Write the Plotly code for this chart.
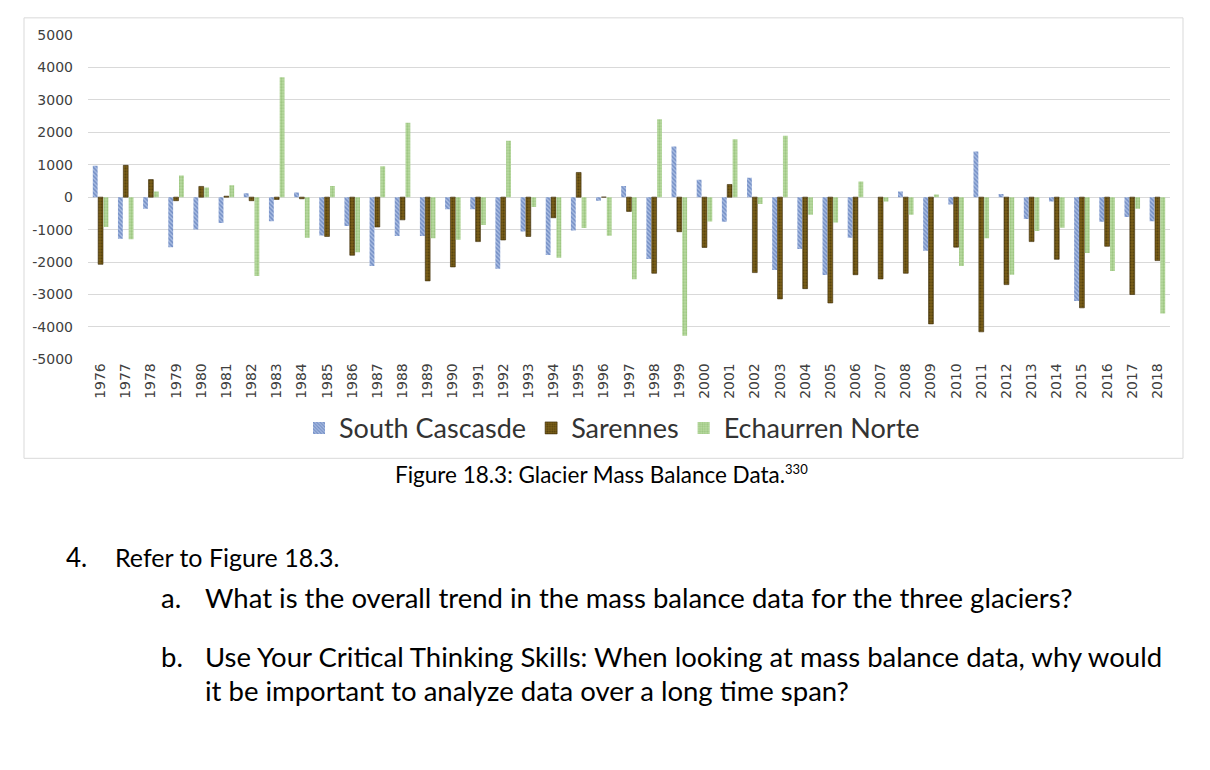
import plotly.graph_objects as go

# ---------------- data ----------------
years = [str(y) for y in range(1976, 2019)]

south_cascade = [970, -1280, -360, -1540, -995, -800, 120, -740, 145, -1180,
                 -890, -2120, -1200, -1200, -370, -370, -2210, -1055, -1780, -1025,
                 -110, 340, -1905, 1560, 535, -760, 595, -2245, -1600, -2400,
                 -1250, 0, 175, -1650, -225, 1405, 100, -675, -135, -3200,
                 -760, -615, -740]

sarennes = [-2070, 980, 540, -110, 330, 30, -110, -70, -50, -1210,
            -1790, -920, -700, -2580, -2150, -1370, -1320, -1210, -635, 760,
            0, -440, -2345, -1065, -1550, 390, -2325, -3135, -2820, -3260,
            -2390, -2520, -2345, -3905, -1540, -4150, -2695, -1370, -1915, -3410,
            -1515, -3000, -1955]

echaurren_norte = [-920, -1300, 175, 665, 300, 370, -2430, 3690, -1250, 340,
                   -1700, 950, 2295, -1270, -1310, -860, 1740, -300, -1865, -950,
                   -1190, -2530, 2400, -4270, -750, 1780, -215, 1895, -545, -780,
                   480, -135, -545, 80, -2120, -1270, -2390, -1045, -940, -1720,
                   -2275, -360, -3585]

y_tickvals = [5000, 4000, 3000, 2000, 1000, 0, -1000, -2000, -3000, -4000, -5000]
y_ticktext = ["5000", "4000", "3000", "2000", "1000", "0", "-1000", "-2000", "-3000", "-4000", "-5000"]

series_names = ["South Cascasde", "Sarennes", "Echaurren Norte"]

# ---------------- figure ----------------
# page body has an 8px margin, so the figure is drawn 8px in from the window edge
OFF = 8
W, H = 1210 - 2 * OFF, 770 - 2 * OFF

def px(x):
    return (x - OFF) / W

def py(y):
    yy = (y - 7.3) / 0.98   # empirical vertical correction of the photographed page
    return 1 - (yy - OFF) / H

fig = go.Figure()

fig.add_trace(go.Bar(
    x=years, y=south_cascade, name=series_names[0],
    marker=dict(color="#7F98CF", line=dict(width=0),
                pattern=dict(shape="\\", fgcolor="#3F62A8", bgcolor="#A9BCE2", size=3, solidity=0.5)),
))
fig.add_trace(go.Bar(
    x=years, y=sarennes, name=series_names[1],
    marker=dict(color="#5A4510", line=dict(width=0.6, color="#3A2A05"),
                pattern=dict(shape=".", fgcolor="#2E2204", bgcolor="#7A5F18", size=3, solidity=0.4)),
))
fig.add_trace(go.Bar(
    x=years, y=echaurren_norte, name=series_names[2],
    marker=dict(color="#A9D18E", line=dict(width=0),
                pattern=dict(shape=".", fgcolor="#7FB15E", bgcolor="#B9DAA2", size=3, solidity=0.45)),
))

fig.update_layout(
    width=W, height=H,
    margin=dict(l=0, r=0, t=0, b=0),
    paper_bgcolor="white", plot_bgcolor="white",
    barmode="group", bargap=0.36, bargroupgap=0.1,
    font=dict(family="DejaVu Sans", color="#595959"),
    xaxis=dict(domain=[px(88), px(1170)], type="category", tickangle=-90,
               showgrid=False, zeroline=False, showline=False, ticks="",
               tickfont=dict(family="DejaVu Sans", size=14, color="#404040")),
    yaxis=dict(domain=[py(359), py(34)], range=[-5000, 5000],
               tickvals=y_tickvals, ticktext=y_ticktext,
               showgrid=True, gridcolor="#D9D9D9", gridwidth=1,
               zeroline=True, zerolinecolor="#D9D9D9", zerolinewidth=1,
               showline=False, ticks="", ticklabelstandoff=14,
               tickfont=dict(family="DejaVu Sans", size=14, color="#404040")),
    legend=dict(orientation="h", x=px(612), xanchor="center", y=py(428), yanchor="middle",
                font=dict(family="Lato", size=27, color="#333333"),
                bgcolor="rgba(0,0,0,0)", itemclick=False, itemdoubleclick=False),
    showlegend=True,
)

# chart frame
fig.add_shape(type="rect", xref="paper", yref="paper",
              x0=px(24), x1=px(1183), y0=py(458), y1=py(17),
              line=dict(color="#D9D9D9", width=1), fillcolor="rgba(0,0,0,0)", layer="below")

text_font = "Lato"
annotations = [
    dict(text="Figure 18.3: Glacier Mass Balance Data.<sup><span style='font-size:13px'>330</span></sup>",
         x=px(393), y=py(474), size=22.5),
    dict(text="4.", x=px(64), y=py(557), size=26),
    dict(text="Refer to Figure 18.3.", x=px(113), y=py(557), size=25),
    dict(text="a.", x=px(159), y=py(597), size=27.5),
    dict(text="What is the overall trend in the mass balance data for the three glaciers?",
         x=px(203), y=py(597), size=27.5),
    dict(text="b.", x=px(159), y=py(656), size=27.5),
    dict(text="Use Your Critical Thinking Skills: When looking at mass balance data, why would",
         x=px(203), y=py(656), size=27.5),
    dict(text="it be important to analyze data over a long time span?",
         x=px(203), y=py(690), size=27.5),
]
for a in annotations:
    fig.add_annotation(text=a["text"], x=a["x"], y=a["y"], xref="paper", yref="paper",
                       xanchor="left", yanchor="middle", showarrow=False,
                       font=dict(family=text_font, size=a["size"], color="#000000"))

fig.write_html("out.html")
